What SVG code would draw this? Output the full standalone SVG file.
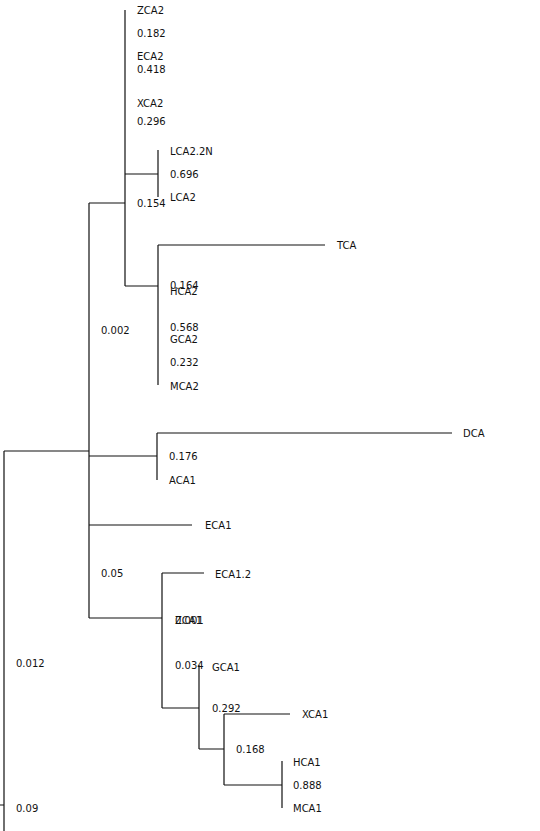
<svg xmlns="http://www.w3.org/2000/svg" width="540" height="831" viewBox="0 0 540 831">
<style>
.e{stroke:#111;stroke-width:1.2;fill:none}
text{font-family:"DejaVu Sans",sans-serif;font-size:10px;fill:#111}
</style>
<rect width="540" height="831" fill="#fff"/>
<g id="connectors">
<path class="e" d="M0,805H4M4,451V831M4,451H89"/>
<path class="e" d="M89,203V618M89,203H125M89,456H157M89,525H192M89,618H162"/>
<path class="e" d="M125,10V286M125,174H158M125,286H158"/>
<path class="e" d="M158,150V197"/>
<path class="e" d="M158,245V385M158,245H325"/>
<path class="e" d="M157,433V480M157,433H452"/>
<path class="e" d="M162,573V708M162,573H204M199,665V749M162,708H199M199,749H224M224,714V785M224,714H290M224,785H282M282,761V808"/>
</g>
<g id="labels-root">
<text x="16" y="667">0.012</text>
<text x="16" y="812">0.09</text>
</g>
<g id="labels-main">
<text x="101" y="334">0.002</text>
<text x="101" y="577">0.05</text>
</g>
<g id="clade-top">
<text x="137" y="14">ZCA2</text>
<text x="137" y="37">0.182</text>
<text x="137" y="60">ECA2</text>
<text x="137" y="73">0.418</text>
<text x="137" y="107">XCA2</text>
<text x="137" y="125">0.296</text>
<text x="137" y="207">0.154</text>
</g>
<g id="clade-lca2">
<text x="170" y="155">LCA2.2N</text>
<text x="170" y="178">0.696</text>
<text x="170" y="201">LCA2</text>
</g>
<g id="clade-tca">
<text x="337" y="249">TCA</text>
<text x="170" y="289">0.164</text>
<text x="170" y="295">HCA2</text>
<text x="170" y="331">0.568</text>
<text x="170" y="343">GCA2</text>
<text x="170" y="366">0.232</text>
<text x="170" y="390">MCA2</text>
</g>
<g id="clade-dca">
<text x="463" y="437">DCA</text>
<text x="169" y="460">0.176</text>
<text x="169" y="484">ACA1</text>
</g>
<g id="node-eca1">
<text x="205" y="529">ECA1</text>
</g>
<g id="clade-bottom">
<text x="215" y="578">ECA1.2</text>
<text x="175" y="624">ZCA1</text>
<text x="175" y="624">0.001</text>
<text x="175" y="669">0.034</text>
<text x="212" y="671">GCA1</text>
<text x="212" y="712">0.292</text>
<text x="302" y="718">XCA1</text>
<text x="236" y="753">0.168</text>
<text x="293" y="766">HCA1</text>
<text x="293" y="789">0.888</text>
<text x="293" y="812">MCA1</text>
</g>
</svg>
